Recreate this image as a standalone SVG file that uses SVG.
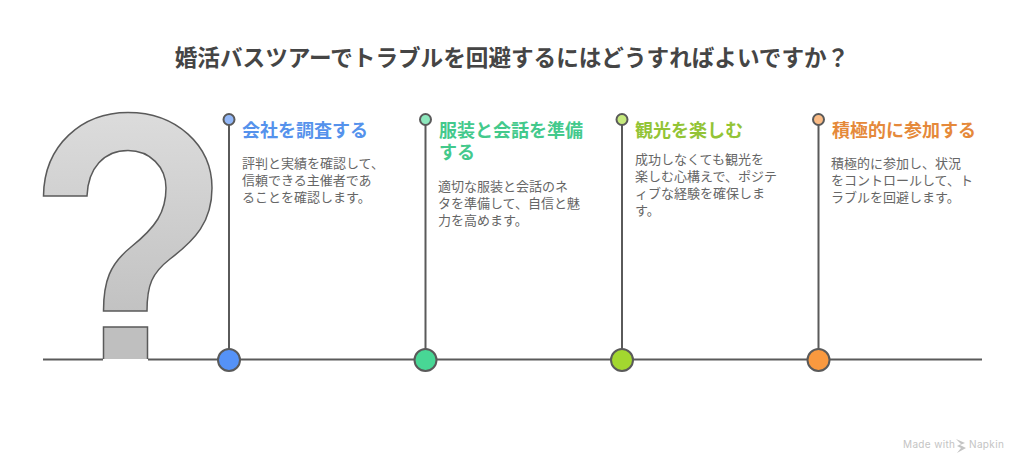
<svg xmlns="http://www.w3.org/2000/svg" width="1024" height="469" viewBox="0 0 1024 469">
<style>
text{font-family:"Noto Sans CJK JP","Noto Sans",sans-serif}
.t{font-size:22.6px;font-weight:700;fill:#454545}
.h{font-size:18px;font-weight:700}
.b{font-size:13px;fill:#666}
.l{stroke:#5a5a5a;stroke-width:2;fill:none}
.d{stroke:#5a5a5a;stroke-width:2}
</style>
<defs><linearGradient id="g" gradientUnits="userSpaceOnUse" x1="0" y1="112" x2="0" y2="359"><stop offset="0" stop-color="#dcdcdc"/><stop offset="1" stop-color="#bcbcbc"/></linearGradient></defs>
<rect width="1024" height="469" fill="#fff"/>
<text class="t" x="512" y="66" text-anchor="middle">婚活バスツアーでトラブルを回避するにはどうすればよいですか？</text>
<g id="question-mark">
<path d="M43.500 196C44 145 82 112.500 128 112.500C176 112.500 212 145 212 188C212 222 195 240 170 259C152 273 147 285 147 311H103.500C103.500 281 110 264 131 247C156 227 166 212 166 188C166 167 150 150.500 128 150.500C104 150.500 88 168 87 196Z" fill="url(#g)" stroke="#5a5a5a" stroke-width="1.500"/>
<path d="M103.500 359V327H147.500V359" fill="#bfbfbf" stroke="#5a5a5a" stroke-width="1.500"/>
</g>
<g id="connectors">
<path class="l" d="M43 359.500H103M148 359.500H982"/>
<path class="l" d="M229 120V359M425.500 120V359M622 120V359M818.500 120V359"/>
</g>
<g id="node-1">
<circle class="d" cx="229" cy="119.500" r="5.500" fill="#93b8f8"/><circle class="d" cx="229" cy="360" r="11" fill="#5592f7"/>
<text class="h" x="242" y="137" fill="#5592ec">会社を調査する</text>
<text class="b"><tspan x="242" y="168">評判と実績を確認して、</tspan><tspan x="242" y="185">信頼できる主催者であ</tspan><tspan x="242" y="202">ることを確認します。</tspan></text>
</g>
<g id="node-2">
<circle class="d" cx="425.500" cy="119.500" r="5.500" fill="#8de8bd"/><circle class="d" cx="425.500" cy="360" r="11" fill="#48d795"/>
<text class="h"><tspan x="439" y="137" fill="#43c98c">服装と会話を準備</tspan><tspan x="439" y="159" fill="#43c98c">する</tspan></text>
<text class="b"><tspan x="438" y="191">適切な服装と会話のネ</tspan><tspan x="438" y="208">タを準備して、自信と魅</tspan><tspan x="438" y="225">力を高めます。</tspan></text>
</g>
<g id="node-3">
<circle class="d" cx="622" cy="119.500" r="5.500" fill="#c6ea7d"/><circle class="d" cx="622" cy="360" r="11" fill="#a3d72f"/>
<text class="h" x="635" y="137" fill="#93c436">観光を楽しむ</text>
<text class="b"><tspan x="635" y="164">成功しなくても観光を</tspan><tspan x="635" y="181">楽しむ心構えで、ポジテ</tspan><tspan x="635" y="198">ィブな経験を確保しま</tspan><tspan x="635" y="215">す。</tspan></text>
</g>
<g id="node-4">
<circle class="d" cx="818.500" cy="119.500" r="5.500" fill="#fbbc86"/><circle class="d" cx="818.500" cy="360" r="11" fill="#f9993f"/>
<text class="h" x="832" y="137" fill="#e5893a">積極的に参加する</text>
<text class="b"><tspan x="831" y="168">積極的に参加し、状況</tspan><tspan x="831" y="185">をコントロールして、ト</tspan><tspan x="831" y="202">ラブルを回避します。</tspan></text>
</g>
<g id="watermark">
<text x="903" y="448" font-size="10" style="font-family:Inter,'Liberation Sans',sans-serif" fill="#c4c4c4" letter-spacing=".35">Made with</text>
<path d="M956 439L965 443L960 445L966 448L957 453L961 448L957 446L961 444Z" fill="#c4c4c4"/>
<text x="969" y="448" font-size="10" style="font-family:Inter,'Liberation Sans',sans-serif" fill="#c4c4c4" letter-spacing=".35">Napkin</text>
</g>
</svg>
